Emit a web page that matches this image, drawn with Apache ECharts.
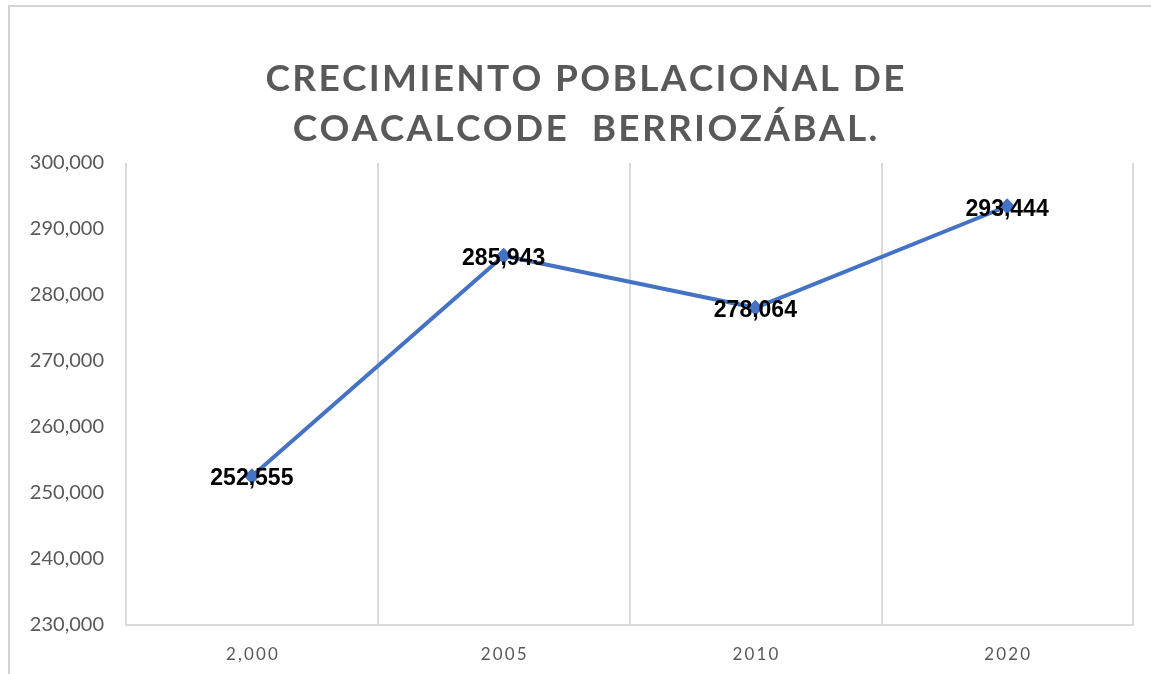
<!DOCTYPE html>
<html lang="es">
  <head>
    <meta charset="UTF-8" />
    <title>Crecimiento poblacional</title>
    <script src="https://cdn.jsdelivr.net/npm/echarts@6/dist/echarts.min.js"></script>
    <style>
      body { margin: 0; background: #fff; }
      #frame {
        position: absolute; left: 8px; top: 5px; width: 1160px; height: 700px;
        border-top: 2px solid #d4d4d4; border-left: 2px solid #d4d4d4;
      }
      #main { position: absolute; left: 0; top: 0; width: 1151px; height: 674px; }
    </style>
  </head>
  <body>
    <div id="frame"></div>
    <div id="main"></div>
    <script type="text/javascript">
      // years (first one is written with a thousands separator in the original)
      const years = ["2,000", "2005", "2010", "2020"];
      const population = [252555, 285943, 278064, 293444];
      const yTicks = { min: 230000, max: 300000, step: 10000 };

      const grey = "#595959";
      const fmt = (v) => v.toLocaleString("en-US");
      // fake letter spacing with hair spaces
      const spaced = (s, sep) => s.split("").join(sep);

      let options = {
        animation: false,
        title: {
          text:
            spaced("CRECIMIENTO POBLACIONAL DE", "\u200A") +
            "\n" +
            spaced("COACALCODE  BERRIOZÁBAL.", "\u200A"),
          left: 580,
          top: 49,
          textAlign: "center",
          textStyle: {
            fontFamily: "Lato",
            fontWeight: "bold",
            fontSize: 37,
            lineHeight: 50,
            color: grey,
          },
        },
        grid: { left: 126, right: 18, top: 163, bottom: 49 },
        xAxis: {
          type: "category",
          data: years,
          boundaryGap: true,
          axisLine: { lineStyle: { color: "#d9d9d9", width: 2 } },
          axisTick: { show: false },
          splitLine: { show: true, lineStyle: { color: "#d9d9d9", width: 2 } },
          axisLabel: {
            color: grey,
            fontFamily: "Lato",
            fontSize: 17,
            margin: 21,
            formatter: (v) => spaced(v, "\u2009"),
          },
        },
        yAxis: {
          type: "value",
          min: yTicks.min,
          max: yTicks.max,
          interval: yTicks.step,
          axisLine: { show: false },
          axisTick: { show: false },
          splitLine: { show: false },
          axisLabel: {
            color: grey,
            fontFamily: "Lato",
            fontSize: 20,
            margin: 22,
            formatter: (v) => fmt(v),
          },
        },
        series: [
          {
            type: "line",
            data: population,
            symbol: "diamond",
            symbolSize: 16,
            itemStyle: { color: "#4472C4" },
            lineStyle: { color: "#4472C4", width: 4 },
            label: {
              show: true,
              position: "inside",
              offset: [0, 3],
              color: "#000",
              fontFamily: "'Liberation Sans'",
              fontWeight: "bold",
              fontSize: 23,
              formatter: (p) => fmt(p.value),
            },
          },
        ],
      };

      let myChart = echarts.init(document.getElementById("main"));
      myChart.setOption(options);
    </script>
  </body>
</html>
